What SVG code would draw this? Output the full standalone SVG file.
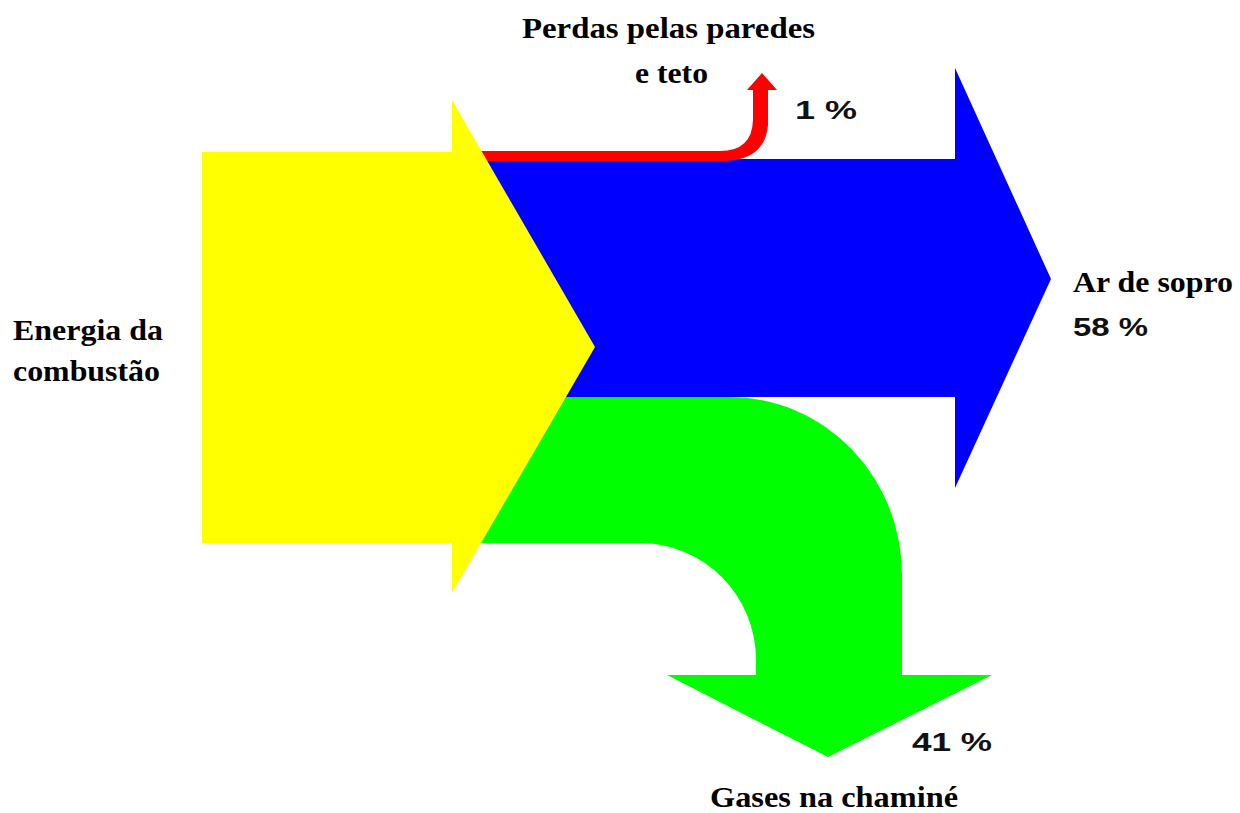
<svg xmlns="http://www.w3.org/2000/svg" width="1240" height="813" viewBox="0 0 1240 813">
<style>
.lbl{font-family:"Liberation Serif","Times New Roman",serif;font-weight:bold;font-size:30px;fill:#000}
.pct{font-family:"Liberation Sans",Arial,sans-serif;font-weight:bold;font-size:25px;fill:#111}
</style>
<rect width="1240" height="813" fill="#fff"/>
<g id="flows">
<g id="ar-de-sopro"><path d="M470,159 L955,159 L955,68 L1051,279 L955,488 L955,397 L470,397 Z" fill="#0000ff"/></g>
<g id="perdas"><path d="M470,151 L720,151 Q752,151 753,120 L753,90 L747,90 L762,73 L777,90 L768,90 L768,125 Q765,161 722,161 L470,161 Z" fill="#ff0000"/></g>
<g id="gases"><path d="M470,397 L730,397 A172 178 0 0 1 902,576 L902,675 L992,675 L828,757 L667,675 L756,675 L756,660 A116 117 0 0 0 640,543 L470,543 Z" fill="#00ff00"/></g>
<g id="energia"><path d="M202,152 L452,152 L452,100 L595,347 L452,593 L452,543 L202,543 Z" fill="#ffff00"/></g>
</g>
<g id="labels">
<text class="lbl" x="522" y="38" textLength="293" lengthAdjust="spacingAndGlyphs">Perdas pelas paredes</text>
<text class="lbl" x="635" y="83" textLength="73" lengthAdjust="spacingAndGlyphs">e teto</text>
<text class="pct" x="795" y="119" textLength="62" lengthAdjust="spacingAndGlyphs">1 %</text>
<text class="lbl" x="13" y="340" textLength="150" lengthAdjust="spacingAndGlyphs">Energia da</text>
<text class="lbl" x="13" y="381" textLength="147" lengthAdjust="spacingAndGlyphs">combustão</text>
<text class="lbl" x="1073" y="292" textLength="160" lengthAdjust="spacingAndGlyphs">Ar de sopro</text>
<text class="pct" x="1073" y="336" textLength="75" lengthAdjust="spacingAndGlyphs">58 %</text>
<text class="pct" x="912" y="751" textLength="80" lengthAdjust="spacingAndGlyphs">41 %</text>
<text class="lbl" x="710" y="807" textLength="248" lengthAdjust="spacingAndGlyphs">Gases na chaminé</text>
</g>
</svg>
